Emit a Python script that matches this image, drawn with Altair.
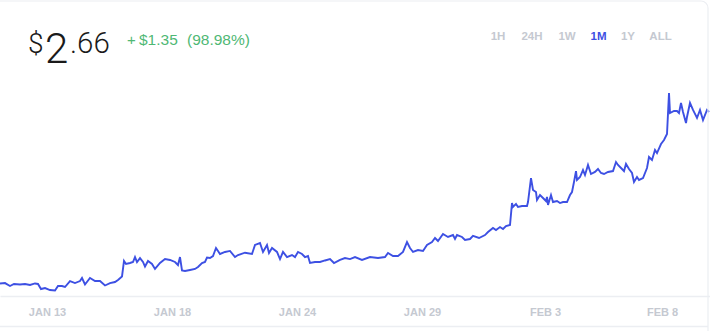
import altair as alt
import pandas as pd

# ---- data (hour offset from start, price in USD) ----
hours = [0, 5, 10, 14, 20, 25, 30, 35, 38, 41, 45, 50, 55, 58, 62, 65, 70, 75, 80, 82,
         85, 90, 95, 100, 105, 110, 115, 118, 122, 124, 126, 130, 133, 135, 137, 140, 143, 145, 148, 152,
         155, 160, 165, 170, 175, 178, 180, 182, 185, 190, 195, 198, 202, 205, 207, 210, 213, 216, 218, 220,
         225, 230, 235, 238, 245, 252, 255, 260, 263, 267, 269, 272, 277, 280, 283, 287, 292, 295, 298, 302,
         305, 308, 310, 315, 320, 325, 330, 334, 340, 345, 350, 355, 362, 370, 378, 385, 388, 393, 398, 403,
         407, 410, 413, 418, 423, 427, 432, 435, 438, 443, 448, 453, 455, 457, 462, 465, 470, 473, 479, 485,
         488, 493, 496, 500, 503, 506, 510, 512, 513, 516, 518, 522, 527, 528, 531, 533, 536, 537, 540, 543,
         546, 547, 548, 551, 553, 557, 560, 563, 567, 570, 572, 574, 576, 577, 580, 583, 585, 588, 591, 595,
         598, 601, 604, 608, 613, 616, 618, 622, 624, 626, 629, 632, 634, 637, 639, 643, 647, 649, 652, 655,
         657, 661, 664, 667, 669, 670, 674, 677, 679, 681, 683, 686, 687, 690, 693, 697, 700, 703, 707, 709]
prices = [1.310, 1.313, 1.290, 1.306, 1.302, 1.306, 1.298, 1.310, 1.306, 1.266, 1.274, 1.258, 1.255, 1.290, 1.290, 1.282, 1.329, 1.313, 1.329, 1.353,
          1.302, 1.353, 1.329, 1.329, 1.294, 1.313, 1.321, 1.337, 1.365, 1.487, 1.463, 1.471, 1.479, 1.518, 1.479, 1.510, 1.479, 1.443, 1.487, 1.463,
          1.424, 1.471, 1.502, 1.495, 1.479, 1.455, 1.518, 1.412, 1.408, 1.416, 1.424, 1.440, 1.471, 1.479, 1.514, 1.510, 1.526, 1.589, 1.566, 1.542,
          1.558, 1.566, 1.518, 1.534, 1.552, 1.542, 1.613, 1.628, 1.558, 1.613, 1.550, 1.589, 1.558, 1.502, 1.558, 1.518, 1.534, 1.518, 1.558, 1.542,
          1.518, 1.526, 1.471, 1.479, 1.479, 1.491, 1.502, 1.471, 1.495, 1.510, 1.502, 1.518, 1.495, 1.518, 1.510, 1.518, 1.550, 1.526, 1.526, 1.558,
          1.636, 1.589, 1.558, 1.573, 1.566, 1.613, 1.636, 1.668, 1.644, 1.699, 1.676, 1.691, 1.660, 1.691, 1.676, 1.652, 1.660, 1.684, 1.668, 1.691,
          1.715, 1.747, 1.731, 1.754, 1.739, 1.762, 1.770, 1.943, 1.912, 1.936, 1.912, 1.920, 1.920, 1.951, 2.140, 2.046, 2.030, 1.967, 2.006, 1.983,
          1.959, 1.991, 1.928, 2.006, 1.951, 1.959, 1.943, 1.951, 1.951, 2.006, 2.030, 2.109, 2.195, 2.125, 2.148, 2.203, 2.164, 2.243, 2.172, 2.188,
          2.211, 2.180, 2.172, 2.188, 2.195, 2.266, 2.243, 2.211, 2.195, 2.251, 2.211, 2.180, 2.109, 2.148, 2.125, 2.140, 2.219, 2.306, 2.282, 2.361,
          2.337, 2.408, 2.440, 2.487, 2.810, 2.652, 2.668, 2.668, 2.652, 2.731, 2.660, 2.573, 2.621, 2.731, 2.676, 2.613, 2.676, 2.597, 2.676, 2.660]

tick_hours = [47, 172, 297, 422, 545, 662]
tick_labels = ["JAN 13", "JAN 18", "JAN 24", "JAN 29", "FEB 3", "FEB 8"]

price_main = "2"
price_cents = ".66"
change_abs = "$1.35"
change_pct = "(98.98%)"
ranges = ["1H", "24H", "1W", "1M", "1Y", "ALL"]
active_range = "1M"

# ---- styling ----
BLUE = "#3d50e3"
GREEN = "#4fb874"
GRAY_TXT = "#c5c9d1"
LINE_GRAY = "#eceef2"
FONT = "Liberation Sans"

df = pd.DataFrame({"t": hours, "p": prices})

label_expr = " : ".join(
    f"datum.value == {h} ? '{l}'" for h, l in zip(tick_hours, tick_labels)
) + " : ''"

line = alt.Chart(df).mark_line(color=BLUE, strokeWidth=1.9).encode(
    x=alt.X("t:Q",
            scale=alt.Scale(domain=[0, 710], nice=False, zero=False),
            axis=alt.Axis(values=tick_hours, labelExpr=label_expr, grid=False, ticks=False,
                          domainColor=LINE_GRAY, domainWidth=1.5, labelColor=GRAY_TXT,
                          labelFontSize=11, labelFont=FONT, labelFontWeight="bold",
                          labelPadding=10, labelFlush=False, title=None)),
    y=alt.Y("p:Q", scale=alt.Scale(domain=[1.2112, 3.5419], nice=False, zero=False), axis=None),
)

def txt(s, x, y, size, color, weight="normal", align="left", font=FONT):
    return alt.Chart(pd.DataFrame({"s": [s]})).mark_text(
        align=align, baseline="alphabetic", fontSize=size, color=color,
        fontWeight=weight, font=font
    ).encode(x=alt.value(x), y=alt.value(y), text="s:N")

layers = [line]

# card border & separators
layers.append(alt.Chart(pd.DataFrame({"a": [0]})).mark_rect(
    fill="transparent", stroke=LINE_GRAY, strokeWidth=1.2, cornerRadius=7
).encode(x=alt.value(-10), x2=alt.value(708), y=alt.value(1), y2=alt.value(345)))
layers.append(alt.Chart(pd.DataFrame({"a": [0]})).mark_rule(
    color=LINE_GRAY, strokeWidth=1.5
).encode(x=alt.value(0), x2=alt.value(708), y=alt.value(326.5)))

# price header
layers.append(txt("$", 28, 53, 28, "#1a1a1a", 300, font="Roboto"))
layers.append(txt(price_main, 45, 63, 42, "#1a1a1a", 300, font="Roboto"))
layers.append(txt(price_cents, 70, 53, 29.5, "#1a1a1a", 300, font="Roboto"))
layers.append(txt("+", 127, 45, 15, GREEN))
layers.append(txt(change_abs, 139, 45, 15.5, GREEN))
layers.append(txt(change_pct, 187, 45, 15.5, GREEN))

# range buttons
button_x = [498, 532, 567, 598.5, 628, 660.5]
for r, bx in zip(ranges, button_x):
    active = r == active_range
    layers.append(txt(r, bx, 40, 11.5, BLUE if active else GRAY_TXT, "bold", align="center"))

chart = alt.layer(*layers).properties(
    width=710, height=296,
    autosize=alt.AutoSizeParams(type="none"),
    padding={"left": 0, "top": 0, "right": 0, "bottom": 35},
    background="white",
).configure_view(stroke=None)

chart.save("out.html", embed_options={"renderer": "svg", "actions": False})
